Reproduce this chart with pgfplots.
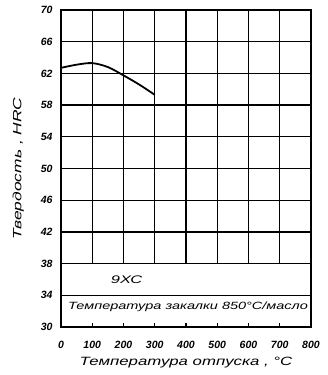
\documentclass[border=0pt]{standalone}
\usepackage{fontspec}
\setmainfont{Liberation Sans}
\usepackage{graphicx}
\usepackage{pgfplots}
\pgfplotsset{compat=1.18}
\begin{document}
\begin{tikzpicture}
\begin{axis}[
  at={(0,0)}, anchor=south west,
  scale only axis, width=250pt, height=317pt,
  xmin=0, xmax=800, ymin=30, ymax=70,
  axis line style={line width=1.3pt},
  xtick={0,100,...,800}, ytick={30,34,...,70},
  major tick length=0pt,
  tick label style={font=\itshape\bfseries\fontsize{10.5}{12}\selectfont},
  /pgf/number format/assume math mode=true,
  xticklabel style={yshift=-11pt},
  yticklabel style={xshift=-5pt},
  xlabel={\scalebox{1.4}[1]{\itshape Температура отпуска , °С}},
  ylabel={\scalebox{1.45}[1]{\itshape Твердость , HRC}},
  label style={font=\itshape\fontsize{12}{14}\selectfont},
  xlabel style={yshift=-1pt},
  ylabel style={yshift=10pt},
  clip=false,
]
% grid
\foreach \x in {100,200,...,700} {
  \edef\tmp{\noexpand\draw[line width=1.2pt] (axis cs:\x,38) -- (axis cs:\x,70);}\tmp
  \edef\tmp{\noexpand\draw[line width=1.2pt] (axis cs:\x,30) -- (axis cs:\x,30.5);}\tmp
}
\foreach \y in {34,38,...,66} {
  \edef\tmp{\noexpand\draw[line width=1.2pt] (axis cs:0,\y) -- (axis cs:800,\y);}\tmp
}
\node[font=\itshape\fontsize{11}{13}\selectfont] at (axis cs:210,36) {\scalebox{1.5}[1]{9ХС}};
\node[font=\itshape\fontsize{10.5}{12}\selectfont, anchor=west, inner sep=0pt] at (axis cs:22,32.5) {\scalebox{1.38}[1]{Температура закалки 850°С/масло}};
\addplot[line width=1.8pt, smooth] coordinates {
 (0,62.7) (50,63.1) (100,63.3) (150,62.8) (200,61.75) (250,60.6) (300,59.3)
};
\end{axis}
\path (-61pt,-48pt) rectangle (266pt,327pt);
\end{tikzpicture}
\end{document}
